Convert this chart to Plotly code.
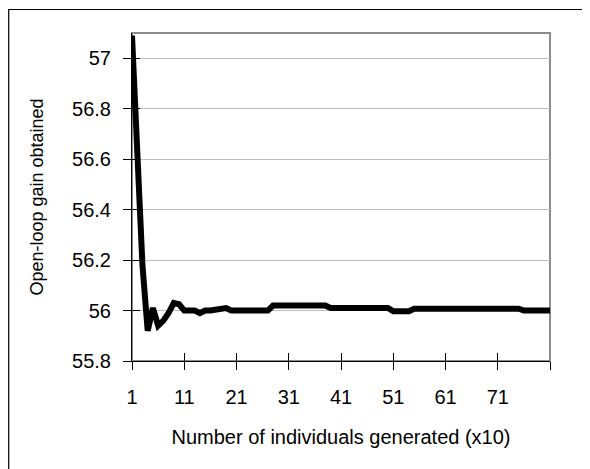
import plotly.graph_objects as go

# Data
generation = list(range(1, 82))  # x axis: number of individuals generated (x10)
gain = [
    57.09, 56.64, 56.18, 55.92, 56.01, 55.94, 55.96, 55.99, 56.03, 56.025,
    56.0, 56.0, 56.0, 55.99, 56.0, 56.0, 56.005, 56.01, 56.01, 56.0,
    56.0, 56.0, 56.0, 56.0, 56.0, 56.0, 56.0,
    56.02, 56.02, 56.02, 56.02, 56.02, 56.02, 56.02, 56.02, 56.02, 56.02, 56.02,
    56.01, 56.01, 56.01, 56.01, 56.01, 56.01, 56.01, 56.01, 56.01, 56.01, 56.01, 56.01,
    55.997, 55.997, 55.997, 55.997,
    56.007, 56.007, 56.007, 56.007, 56.007, 56.007, 56.007, 56.007, 56.007, 56.007,
    56.007, 56.007, 56.007, 56.007, 56.007, 56.007, 56.007, 56.007, 56.007, 56.007, 56.007,
    56.0, 56.0, 56.0, 56.0, 56.0, 56.0,
]
x_tickvals = [1, 11, 21, 31, 41, 51, 61, 71, 81]
x_ticktext = ["1", "11", "21", "31", "41", "51", "61", "71", ""]
y_tickvals = [55.8, 56.0, 56.2, 56.4, 56.6, 56.8, 57.0]
y_ticktext = ["55.8", "56", "56.2", "56.4", "56.6", "56.8", "57"]
x_title = "Number of individuals generated (x10)"
y_title = "Open-loop gain obtained"

FONT = "Arial, Liberation Sans, sans-serif"
X_RANGE = [1, 81]
Y_RANGE = [55.8, 57.1]

fig = go.Figure()
fig.add_trace(go.Scatter(
    x=generation, y=gain, mode="lines",
    line=dict(color="black", width=6),
    showlegend=False, hoverinfo="skip",
))
# invisible trace to activate the overlay axes (used for inner halves of crossing ticks)
fig.add_trace(go.Scatter(
    x=[None], y=[None], xaxis="x2", yaxis="y2", mode="lines",
    showlegend=False, hoverinfo="skip",
))

fig.update_layout(
    width=582, height=461,
    margin=dict(l=124, r=40, t=25, b=108),
    paper_bgcolor="white", plot_bgcolor="white",
    font=dict(family=FONT, size=20, color="black"),
    xaxis=dict(
        range=X_RANGE, tickmode="array", tickvals=x_tickvals, ticktext=x_ticktext,
        showgrid=False, zeroline=False,
        showline=True, linecolor="black", linewidth=1,
        ticks="outside", ticklen=8, tickcolor="black", tickwidth=1,
        ticklabelstandoff=10,
        tickfont=dict(size=20),
        title=dict(text=x_title, font=dict(size=20), standoff=22),
    ),
    yaxis=dict(
        range=Y_RANGE, tickmode="array", tickvals=y_tickvals, ticktext=y_ticktext,
        showgrid=True, gridcolor="#bdbdbd", gridwidth=1, zeroline=False,
        showline=True, linecolor="black", linewidth=1,
        ticks="outside", ticklen=8, tickcolor="black", tickwidth=1,
        ticklabelstandoff=8,
        tickfont=dict(size=20),
        title=dict(text=y_title, font=dict(size=18), standoff=23),
    ),
    xaxis2=dict(
        range=X_RANGE, overlaying="x", anchor="y", side="bottom",
        tickmode="array", tickvals=x_tickvals, showticklabels=False,
        ticks="inside", ticklen=8, tickcolor="black", tickwidth=1,
        showgrid=False, zeroline=False, showline=False,
    ),
    yaxis2=dict(
        range=Y_RANGE, overlaying="y", anchor="x", side="left",
        tickmode="array", tickvals=y_tickvals, showticklabels=False,
        ticks="inside", ticklen=8, tickcolor="black", tickwidth=1,
        showgrid=False, zeroline=False, showline=False,
    ),
    shapes=[
        # grey plot-area border (top and right visible)
        dict(type="rect", xref="x domain", yref="y domain", x0=0, y0=0, x1=1, y1=1,
             line=dict(color="#8c8c8c", width=2), layer="below"),
        # outer chart frame (extends past the right and bottom edges)
        dict(type="rect", xref="paper", yref="paper", x0=-0.295, y0=-0.6, x1=1.3, y1=1.0716,
             line=dict(color="black", width=1.2), layer="below"),
    ],
)

fig.write_html("out.html")
